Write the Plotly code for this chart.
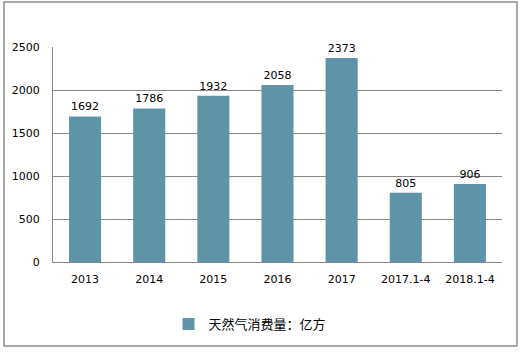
import plotly.graph_objects as go

categories = ["2013", "2014", "2015", "2016", "2017", "2017.1-4", "2018.1-4"]
values = [1692, 1786, 1932, 2058, 2373, 805, 906]
series_name = "天然气消费量：亿方"
y_ticks = [0, 500, 1000, 1500, 2000, 2500]

fig = go.Figure()
fig.add_trace(go.Bar(
    x=categories, y=values, name=series_name,
    marker=dict(color="#5E93A8", line=dict(width=0)),
    text=[str(v) for v in values], textposition="outside",
    textfont=dict(family="DejaVu Sans", size=11, color="#000000"),
    cliponaxis=False, showlegend=True,
))

fig.update_layout(
    width=522, height=352,
    margin=dict(l=53, r=20, t=47, b=90, autoexpand=False),
    paper_bgcolor="white", plot_bgcolor="white",
    bargap=0.5,
    font=dict(family="DejaVu Sans", size=11, color="#000000"),
    showlegend=True,
    legend=dict(orientation="h", xref="container", yref="container",
                x=250/522, xanchor="center", y=1 - 324/352, yanchor="middle",
                font=dict(family="Noto Sans CJK SC", size=13, color="#000000"),
                itemwidth=30, bgcolor="rgba(0,0,0,0)"),
    shapes=[dict(type="rect", xref="paper", yref="paper",
                 x0=-49/449, x1=464/449, y0=-84/215, y1=260/215,
                 line=dict(color="#8C8C8C", width=1.5), fillcolor="rgba(0,0,0,0)", layer="below")],
)
fig.update_xaxes(showline=True, linecolor="#888888", linewidth=1, ticks="",
                 tickfont=dict(family="DejaVu Sans", size=11), showgrid=False,
                 ticklabelstandoff=7)
fig.update_yaxes(range=[0, 2500], tickvals=y_ticks, showline=True, linecolor="#888888", linewidth=1,
                 showgrid=True, gridcolor="#888888", gridwidth=1, zeroline=False, ticks="",
                 tickfont=dict(family="DejaVu Sans", size=11), ticklabelstandoff=10)

fig.write_html("out.html")
